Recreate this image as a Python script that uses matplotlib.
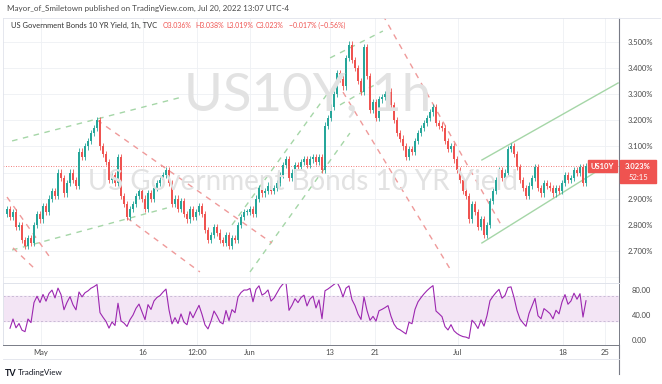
import numpy as np
import matplotlib.pyplot as plt
from matplotlib.lines import Line2D
from matplotlib.patches import Rectangle

# hourly closes of US10Y (one value per ~3 px of the reference)
closes = [2.86, 2.83, 2.85, 2.79, 2.80, 2.74, 2.72, 2.75, 2.73, 2.80,
          2.84, 2.82, 2.87, 2.85, 2.90, 2.93, 2.91, 3.00, 2.98, 2.92,
          2.96, 3.00, 2.97, 2.95, 3.08, 3.06, 3.10, 3.12, 3.15, 3.17,
          3.20, 3.10, 3.07, 3.04, 2.97, 2.99, 2.96, 3.06, 2.91, 2.88,
          2.83, 2.86, 2.88, 2.91, 2.93, 2.90, 2.86, 2.92, 2.90, 2.94,
          2.96, 2.97, 2.99, 3.01, 2.96, 2.88, 2.90, 2.86, 2.89, 2.84,
          2.82, 2.86, 2.83, 2.85, 2.87, 2.84, 2.78, 2.74, 2.76, 2.79,
          2.77, 2.74, 2.73, 2.76, 2.72, 2.75, 2.74, 2.80, 2.83, 2.85,
          2.85, 2.86, 2.84, 2.90, 2.94, 2.92, 2.93, 2.95, 2.93, 2.94,
          2.96, 2.99, 3.03, 3.05, 2.98, 3.00, 3.03, 3.02, 3.04, 3.05,
          3.03, 3.05, 3.06, 3.04, 3.06, 3.01, 3.18, 3.21, 3.25, 3.30,
          3.38, 3.36, 3.33, 3.44, 3.49, 3.43, 3.40, 3.35, 3.31, 3.48,
          3.37, 3.24, 3.27, 3.21, 3.28, 3.29, 3.30, 3.31, 3.26, 3.20,
          3.15, 3.13, 3.10, 3.06, 3.09, 3.08, 3.12, 3.15, 3.17, 3.19,
          3.21, 3.23, 3.25, 3.19, 3.18, 3.17, 3.12, 3.09, 3.10, 3.05,
          3.01, 2.97, 2.93, 2.91, 2.82, 2.88, 2.85, 2.79, 2.82, 2.76,
          2.80, 2.89, 2.93, 2.97, 3.01, 2.98, 3.00, 3.09, 3.10, 3.07,
          3.02, 2.97, 2.94, 2.91, 2.95, 2.98, 3.02, 2.94, 2.92, 2.96,
          2.95, 2.94, 2.92, 2.94, 2.93, 2.96, 2.99, 2.97, 2.98, 3.01,
          3.00, 3.02, 2.96, 3.023]
first_open = 2.84
last_price = 3.023

time_ticks = [11.3, 45.3, 63.3, 81, 107.7, 122.7, 150.3, 185.3, 199.3]
time_labels = ['May', '16', '12:00', 'Jun', '13', '21', 'Jul', '18', '25']
price_ticks = [2.7, 2.8, 2.9, 3.1, 3.2, 3.3, 3.4, 3.5]
price_grid = [2.6, 2.7, 2.8, 2.9, 3.0, 3.1, 3.2, 3.3, 3.4, 3.5]
rsi_ticks = [0, 40, 80]

# drawings on the chart, as (bar, yield) end points
green_dashed = [((1.7, 3.121), (58.3, 3.289)),
                ((1.7, 2.703), (53.3, 2.864)),
                ((75.0, 2.799), (107.7, 3.316)),
                ((81.0, 2.619), (114.3, 3.151)),
                ((107.7, 3.439), (125.3, 3.542)),
                ((111.0, 3.259), (125.3, 3.354))]
red_dashed = [((0.0, 2.906), (14.0, 2.680)),
              ((2.0, 2.711), (9.0, 2.634)),
              ((30.0, 3.201), (88.3, 2.730)),
              ((40.0, 2.826), (64.3, 2.619)),
              ((125.3, 3.603), (165.3, 2.787)),
              ((112.0, 3.308), (148.3, 2.619))]
green_solid = [((158.3, 3.048), (203.7, 3.343)),
               ((158.3, 2.730), (200.0, 3.029))]

W, H = 662, 384


def fx(px):
    return px / W


def fy(py):
    return 1 - py / H


plt.rcParams['font.family'] = ['Lato', 'DejaVu Sans']
fig = plt.figure(figsize=(6.62, 3.84), dpi=100)

up_c, dn_c = '#26a69a', '#ef5350'
grid_c = '#eef0f4'
txt_c = '#4a4a4a'

n = len(closes)
x = np.arange(n)
c = np.array(closes)
o = np.array([first_open] + closes[:-1])
colors = np.where(c >= o, up_c, dn_c)
highs = np.maximum(o, c) + 0.012
lows = np.minimum(o, c) - 0.012
body = np.where(np.abs(c - o) < 0.004, 0.004, c - o)

xmin, xmax = (3 - 7) / 3, (619 - 7) / 3

# ---- price pane
ax = fig.add_axes([fx(3), fy(283), fx(619) - fx(3), fy(18) - fy(283)])
ax.set_xlim(xmin, xmax)
ax.set_ylim(3.5 - (283 - 42) / 261, 3.5 + (42 - 18) / 261)

fig.text(fx(308), fy(96), 'US10Y, 1h', fontsize=38, color='#e2e2e2',
         ha='center', va='center', zorder=0)
fig.text(fx(303), fy(182), 'US Government Bonds 10 YR Yield', fontsize=20,
         color='#e2e2e2', ha='center', va='center', zorder=0)
ax.patch.set_alpha(0)

for lv in price_grid:
    ax.axhline(lv, color=grid_c, lw=0.6, zorder=0)
for t in time_ticks:
    ax.axvline(t, color=grid_c, lw=0.6, zorder=0)

ax.vlines(x, lows, highs, colors=colors, lw=0.6, zorder=3)
ax.bar(x, body, bottom=o, width=0.55, color=colors, zorder=3)

for (x0, y0), (x1, y1) in green_dashed:
    ax.plot([x0, x1], [y0, y1], color='#a5d6a7', lw=1, ls=(0, (4, 4)), zorder=2)
for (x0, y0), (x1, y1) in red_dashed:
    ax.plot([x0, x1], [y0, y1], color='#ef9a9a', lw=1, ls=(0, (4, 4)), zorder=2)
for (x0, y0), (x1, y1) in green_solid:
    ax.plot([x0, x1], [y0, y1], color='#a5d6a7', lw=1, zorder=2)

ax.axhline(last_price, color=dn_c, lw=0.6, ls=(0, (1, 2)), zorder=2)

ax.yaxis.tick_right()
ax.set_yticks(price_ticks)
ax.set_yticklabels([f'{v:.3f}%' for v in price_ticks])
ax.set_xticks([])
ax.tick_params(axis='y', length=0, pad=6, labelsize=5.5, labelcolor=txt_c)
for s in ['top', 'left', 'bottom']:
    ax.spines[s].set_color('#e0e3eb')
    ax.spines[s].set_linewidth(0.6)
ax.spines['right'].set_color('#787b86')
ax.spines['right'].set_linewidth(0.8)

# ---- RSI pane
delta = np.diff(c)
gain = np.clip(delta, 0, None)
loss = np.clip(-delta, 0, None)
period = 4
ag, al = gain[:period].mean(), loss[:period].mean()
rsi = []
for g, l in zip(gain, loss):
    ag = (ag * (period - 1) + g) / period
    al = (al * (period - 1) + l) / period
    rsi.append(100 - 100 / (1 + ag / al))

rax = fig.add_axes([fx(3), fy(345), fx(619) - fx(3), fy(283) - fy(345)])
rax.set_xlim(xmin, xmax)
rax.set_ylim(-8.2, 91.4)
for t in time_ticks:
    rax.axvline(t, color=grid_c, lw=0.6, zorder=0)
rax.axhspan(30, 70, color='#f3e5f5', zorder=0)
rax.axhline(70, color='#b9a9c9', lw=0.5, ls=(0, (3, 3)))
rax.axhline(30, color='#b9a9c9', lw=0.5, ls=(0, (3, 3)))
rax.plot(x[1:], rsi, color='#9c27b0', lw=0.8)
rax.yaxis.tick_right()
rax.set_yticks(rsi_ticks)
rax.set_yticklabels([f'{v:.2f}' for v in rsi_ticks])
rax.set_xticks(time_ticks)
rax.set_xticklabels(time_labels)
rax.tick_params(axis='y', length=0, pad=9, labelsize=5.5, labelcolor=txt_c)
rax.tick_params(axis='x', length=0, pad=3, labelsize=5.5, labelcolor=txt_c)
rax.spines['top'].set_color('#e0e3eb')
rax.spines['left'].set_color('#e0e3eb')
rax.spines['bottom'].set_color('#787b86')
rax.spines['right'].set_color('#787b86')
for s in rax.spines.values():
    s.set_linewidth(0.7)

# frame lines outside the panes
fig.add_artist(Line2D([fx(619), fx(619)], [fy(345), fy(374)], color='#787b86', lw=0.8))
fig.add_artist(Line2D([fx(3), fx(619)], [fy(359), fy(359)], color='#e0e3eb', lw=0.6))
fig.add_artist(Line2D([fx(619), fx(660)], [fy(18), fy(18)], color='#e0e3eb', lw=0.6))

# last price labels
fig.add_artist(Rectangle((fx(588), fy(172)), fx(617) - fx(588), fy(160) - fy(172),
                         color=dn_c, transform=fig.transFigure))
fig.text(fx(602.5), fy(166), 'US10Y', fontsize=5.5, color='white', ha='center',
         va='center', fontweight='bold')
fig.add_artist(Rectangle((fx(620), fy(183)), fx(656) - fx(620), fy(160) - fy(183),
                         color=dn_c, transform=fig.transFigure))
fig.text(fx(638), fy(166), f'{last_price:.3f}%', fontsize=5.5, color='white',
         ha='center', va='center', fontweight='bold')
fig.text(fx(638), fy(177), '52:15', fontsize=5.5, color='white', ha='center', va='center')

# header texts
fig.text(fx(7), fy(8), 'Mayor_of_Smiletown published on TradingView.com, Jul 20, 2022 13:07 UTC-4',
         fontsize=5.8, color=txt_c, va='center')
fig.text(fx(11), fy(25), 'US Government Bonds 10 YR Yield, 1h, TVC', fontsize=5.4,
         color='#333333', va='center')
legend_items = [(163, 'O3.036%'), (195, 'H3.038%'), (226, 'L3.019%'),
                (256, 'C3.023%'), (289, '\u22120.017% (\u22120.56%)')]
for px, s in legend_items:
    fig.text(fx(px), fy(25), s, fontsize=5.0, color=dn_c, va='center')

fig.text(fx(5), fy(373), 'TV', fontsize=6.5, color='#131722', fontweight='bold', va='center')
fig.text(fx(18), fy(373), 'TradingView', fontsize=5.8, color='#131722', va='center')

fig.savefig('out.png', dpi=100)
